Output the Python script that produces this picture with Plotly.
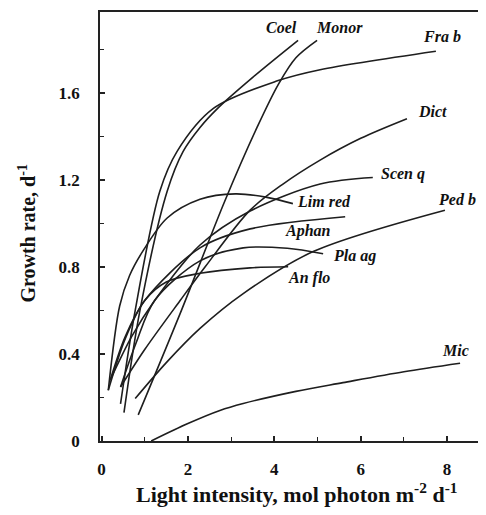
import plotly.graph_objects as go

# ---- data ----
coel_x  = [0.52, 0.89, 1.52, 1.89, 2.28, 2.70, 3.50, 4.55]
coel_y  = [0.13, 0.60, 1.147, 1.33, 1.44, 1.53, 1.67, 1.84]

monor_x = [0.85, 1.85, 2.85, 3.60, 4.10, 4.50, 4.99]
monor_y = [0.12, 0.60, 1.10, 1.44, 1.64, 1.76, 1.84]

frab_x  = [0.44, 0.78, 1.35, 1.75, 2.59, 4.09, 5.06, 7.74]
frab_y  = [0.17, 0.60, 1.147, 1.33, 1.527, 1.655, 1.705, 1.79]

dict_x  = [0.44, 1.00, 1.82, 2.40, 3.44, 4.20, 5.06, 6.00, 7.07]
dict_y  = [0.248, 0.42, 0.645, 0.80, 1.06, 1.18, 1.29, 1.39, 1.48]

scenq_x = [0.20, 0.70, 1.23, 2.28, 3.44, 5.06, 6.28]
scenq_y = [0.279, 0.48, 0.645, 0.90, 1.056, 1.18, 1.21]

limred_x = [0.157, 0.42, 0.65, 0.96, 1.52, 2.28, 3.10, 3.80, 4.43]
limred_y = [0.233, 0.62, 0.76, 0.873, 1.024, 1.11, 1.135, 1.12, 1.09]

aphan_x = [0.20, 0.55, 1.00, 2.28, 3.44, 5.64]
aphan_y = [0.279, 0.48, 0.645, 0.887, 0.974, 1.03]

plaag_x = [0.44, 0.80, 1.23, 2.28, 3.28, 4.30, 5.13]
plaag_y = [0.248, 0.45, 0.645, 0.827, 0.887, 0.885, 0.86]

anflo_x = [0.157, 0.55, 1.00, 1.50, 2.28, 3.44, 4.32]
anflo_y = [0.233, 0.47, 0.645, 0.73, 0.77, 0.795, 0.80]

pedb_x  = [0.78, 1.50, 2.28, 3.28, 4.90, 7.95]
pedb_y  = [0.195, 0.36, 0.517, 0.677, 0.87, 1.06]

mic_x   = [1.15, 2.00, 2.74, 3.28, 4.50, 5.59, 7.00, 8.30]
mic_y   = [0.0, 0.08, 0.14, 0.172, 0.228, 0.268, 0.318, 0.357]

labels = ["Coel", "Monor", "Fra b", "Dict", "Scen q", "Lim red",
          "Ped b", "Aphan", "Pla ag", "An flo", "Mic"]
label_x = [4.16, 5.52, 7.88, 7.65, 6.99, 5.14, 8.23, 4.78, 5.86, 4.81, 8.20]
label_y = [1.90, 1.90, 1.856, 1.513, 1.225, 1.10, 1.11, 0.965, 0.85, 0.75, 0.416]

x_ticks = [0, 2, 4, 6, 8]
y_ticks = [0, 0.4, 0.8, 1.2, 1.6]

series = [(coel_x, coel_y), (monor_x, monor_y), (frab_x, frab_y),
          (dict_x, dict_y), (scenq_x, scenq_y), (limred_x, limred_y),
          (aphan_x, aphan_y), (plaag_x, plaag_y), (anflo_x, anflo_y),
          (pedb_x, pedb_y), (mic_x, mic_y)]

SERIF = "Liberation Serif"
LINE = "#1e1e1e"

fig = go.Figure()
for xs, ys in series:
    fig.add_trace(go.Scatter(x=xs, y=ys, mode="lines",
                             line=dict(color=LINE, width=1.6, shape="spline", smoothing=0.9),
                             showlegend=False, hoverinfo="skip"))

for t, lx, ly in zip(labels, label_x, label_y):
    fig.add_annotation(x=lx, y=ly, text="<b><i>" + t + "</i></b>", showarrow=False,
                       font=dict(family=SERIF, size=16, color="#111"),
                       xanchor="center", yanchor="middle")

# axis titles placed as paper-anchored annotations
fig.add_annotation(xref="paper", yref="paper", x=0.51, y=-0.122,
                   text="<b>Light intensity, mol photon m<sup>-2</sup> d<sup>-1</sup></b>",
                   showarrow=False, xanchor="center", yanchor="middle",
                   font=dict(family=SERIF, size=22, color="#111"))
fig.add_annotation(xref="paper", yref="paper", x=-0.19, y=0.485, textangle=-90,
                   text="<b>Growth rate, d<sup>-1</sup></b>",
                   showarrow=False, xanchor="center", yanchor="middle",
                   font=dict(family=SERIF, size=20, color="#111"))

fig.update_layout(
    width=486, height=515,
    margin=dict(l=92, r=8, t=2, b=82),
    paper_bgcolor="white", plot_bgcolor="white",
    font=dict(family=SERIF, color="#111"),
)
fig.update_xaxes(
    range=[-0.035, 8.9], tickvals=x_ticks, ticks="inside", ticklen=5, tickwidth=1.5,
    tickcolor="#222", showline=True, linecolor="#222", linewidth=1.6, mirror=True,
    showgrid=False, zeroline=False,
    minor=dict(dtick=1, tick0=0, ticks="inside", ticklen=4, tickcolor="#222", tickwidth=1.3),
    tickfont=dict(family=SERIF, size=17, weight="bold", color="#111"),
    ticklabelstandoff=12,
)
fig.update_yaxes(
    range=[0, 1.97], tickvals=y_ticks, ticks="inside", ticklen=5, tickwidth=1.5,
    tickcolor="#222", showline=True, linecolor="#222", linewidth=1.6, mirror=False,
    showgrid=False, zeroline=False,
    minor=dict(dtick=0.2, tick0=0, ticks="inside", ticklen=4, tickcolor="#222", tickwidth=1.3),
    tickfont=dict(family=SERIF, size=17, weight="bold", color="#111"),
    ticklabelstandoff=15,
)

fig.write_html("out.html")
